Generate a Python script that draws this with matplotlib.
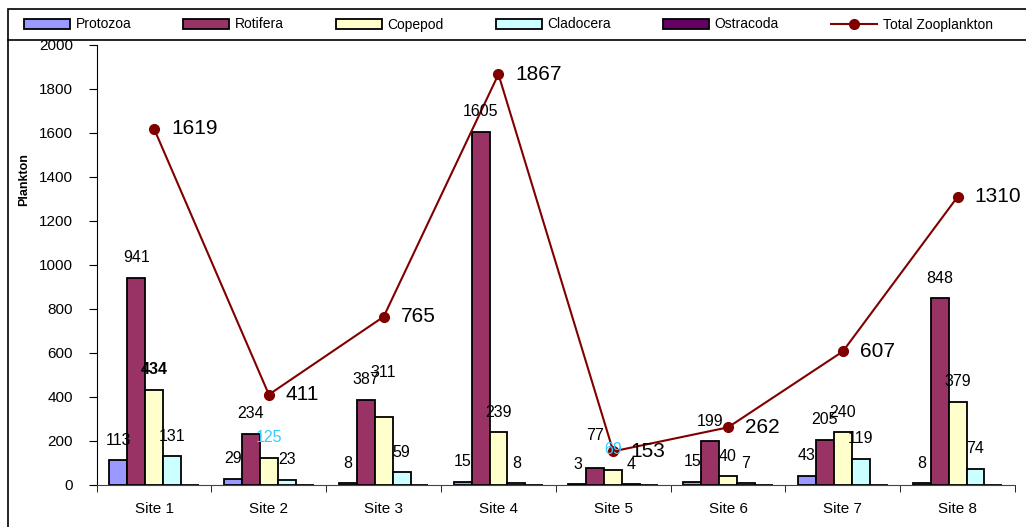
import numpy as np
import matplotlib
matplotlib.use("Agg")
import matplotlib.pyplot as plt
from matplotlib.patches import Rectangle

plt.rcParams['font.family'] = ['Liberation Sans', 'DejaVu Sans']

# data
sites = ['Site 1', 'Site 2', 'Site 3', 'Site 4', 'Site 5', 'Site 6', 'Site 7', 'Site 8']
protozoa = [113, 29, 8, 15, 3, 15, 43, 8]
rotifera = [941, 234, 387, 1605, 77, 199, 205, 848]
copepod = [434, 125, 311, 239, 69, 40, 240, 379]
cladocera = [131, 23, 59, 8, 4, 7, 119, 74]
ostracoda = [0, 0, 0, 0, 0, 0, 0, 0]
total = [1619, 411, 765, 1867, 153, 262, 607, 1310]

series = [
    ('Protozoa', protozoa, '#9999FF'),
    ('Rotifera', rotifera, '#993366'),
    ('Copepod', copepod, '#FFFFCC'),
    ('Cladocera', cladocera, '#CCFFFF'),
    ('Ostracoda', ostracoda, '#660066'),
]

# label tweaks (series index, site index) -> extra px up / colour / weight
extra_up = {(1, 4): 13, (2, 2): 24}
cyan_labels = {(2, 1), (2, 4)}
bold_labels = {(2, 0)}

fig = plt.figure(figsize=(10.26, 5.27), dpi=100)
ax = fig.add_axes([96.7 / 1026, 1 - 485 / 527, (1015 - 96.7) / 1026, (485 - 45) / 527])

x = np.arange(len(sites))
w = 0.78 / 5
px = 72 / 100  # points per pixel

handles = []
for i, (name, vals, col) in enumerate(series):
    bars = ax.bar(x + (i - 2) * w, vals, w, color=col, edgecolor='black',
                  linewidth=1.3, label=name, zorder=2)
    handles.append(bars)
    for j, v in enumerate(vals):
        if v == 0:
            continue
        dy = (20 + extra_up.get((i, j), 0)) * px
        ax.annotate(str(v), (x[j] + (i - 2) * w, v), xytext=(0, dy),
                    textcoords='offset points', ha='center', va='center',
                    fontsize=11.5,
                    color='#33CCFF' if (i, j) in cyan_labels else 'black',
                    fontweight='bold' if (i, j) in bold_labels else 'normal',
                    zorder=4)

line, = ax.plot(x, total, color='#800000', lw=1.5, marker='o', markersize=7,
                label='Total Zooplankton', zorder=3)
for j, v in enumerate(total):
    ax.annotate(str(v), (x[j], v), xytext=(17 * px, 0), textcoords='offset points',
                ha='left', va='center', fontsize=15, zorder=4)

ax.set_xlim(-0.5, len(sites) - 0.5)
ax.set_ylim(0, 2000)
ax.set_yticks(np.arange(0, 2001, 200))
ax.set_xticks(x)
ax.set_xticklabels(sites)
ax.set_xticks(np.arange(-0.5, len(sites), 1), minor=True)
ax.tick_params(axis='x', which='major', length=0, pad=12, labelsize=11)
ax.tick_params(axis='x', which='minor', length=5, direction='out')
ax.tick_params(axis='y', length=6, direction='out', labelsize=11, pad=11)
for s in ['top', 'right']:
    ax.spines[s].set_visible(False)
ax.spines['left'].set_color('black')
ax.spines['bottom'].set_color('#444444')
ax.set_ylabel('Plankton', fontweight='bold', fontsize=9)
ax.yaxis.set_label_coords(-0.073, (485 - 180) / 440)

# outer chart border
fig.patches.append(Rectangle((8 / 1026, -0.1), 1.1, 1.1 - 9 / 527, transform=fig.transFigure,
                             fill=False, edgecolor='black', lw=1.2))

leg = fig.legend(handles=handles + [line], loc='center left', ncol=6,
                 bbox_to_anchor=(24 / 1026, 1 - 24.5 / 527),
                 frameon=False, fontsize=10, handlelength=3.3, handleheight=0.7,
                 handletextpad=0.42, columnspacing=3.74, borderpad=0, borderaxespad=0)
fig.add_artist(plt.Line2D([8 / 1026, 1], [1 - 40 / 527] * 2, transform=fig.transFigure,
                          color='black', lw=1.2))

fig.savefig('out.png', dpi=100)
